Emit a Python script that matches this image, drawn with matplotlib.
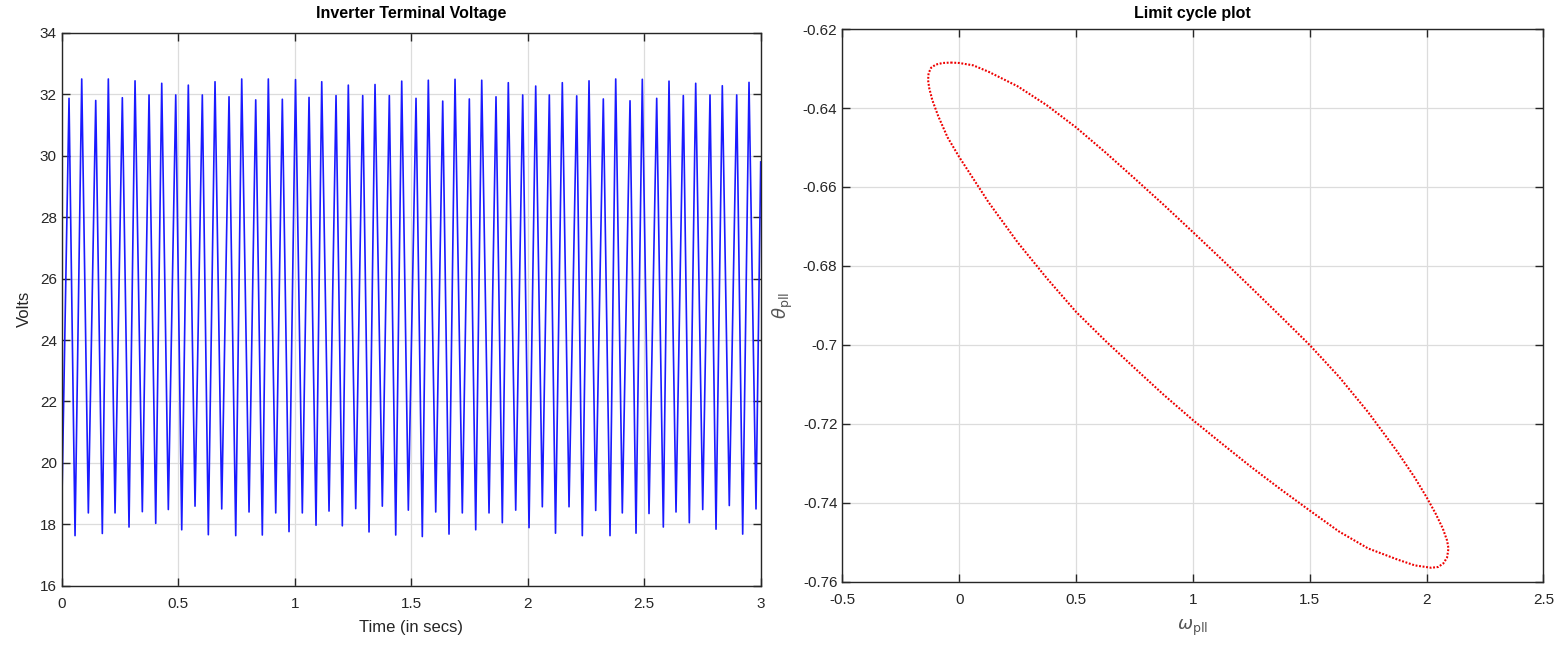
import matplotlib
matplotlib.use("Agg")
import matplotlib.pyplot as plt

plt.rcParams['font.family'] = ['Liberation Sans', 'DejaVu Sans']
plt.rcParams['mathtext.fontset'] = 'dejavusans'

# ---- Inverter terminal voltage: peaks and troughs ----
peak_t = [0.0313, 0.0858, 0.1459, 0.2000, 0.2601, 0.3146, 0.3747, 0.4292, 0.4893, 0.5433,
          0.6034, 0.6579, 0.7180, 0.7725, 0.8326, 0.8867, 0.9468, 1.0034, 1.0614, 1.1159,
          1.1773, 1.2300, 1.2918, 1.3446, 1.4060, 1.4592, 1.5206, 1.5734, 1.6352, 1.6880,
          1.7494, 1.8026, 1.8639, 1.9167, 1.9785, 2.0343, 2.0927, 2.1485, 2.2103, 2.2631,
          2.3245, 2.3777, 2.4391, 2.4918, 2.5536, 2.6064, 2.6678, 2.7210, 2.7824, 2.8352,
          2.8970, 2.9498]
peak_v = [31.87, 32.50, 31.80, 32.50, 31.89, 32.44, 31.98, 32.36, 31.98, 32.30,
          31.98, 32.41, 31.92, 32.50, 31.82, 32.50, 31.84, 32.48, 31.90, 32.41,
          31.96, 32.30, 31.96, 32.32, 31.96, 32.43, 31.87, 32.46, 31.78, 32.49,
          31.85, 32.46, 31.92, 32.38, 31.98, 32.27, 31.98, 32.38, 31.95, 32.44,
          31.85, 32.50, 31.79, 32.49, 31.87, 32.43, 31.96, 32.36, 31.98, 32.28,
          31.98, 32.39]
trough_t = [0.0000, 0.0571, 0.1142, 0.1742, 0.2288, 0.2888, 0.3459, 0.4034, 0.4575, 0.5150,
            0.5721, 0.6292, 0.6867, 0.7468, 0.8039, 0.8609, 0.9185, 0.9755, 1.0326, 1.0914,
            1.1472, 1.2043, 1.2618, 1.3189, 1.3760, 1.4335, 1.4876, 1.5476, 1.6052, 1.6622,
            1.7193, 1.7768, 1.8339, 1.8910, 1.9485, 2.0056, 2.0627, 2.1193, 2.1773, 2.2343,
            2.2918, 2.3532, 2.4060, 2.4648, 2.5206, 2.5820, 2.6365, 2.6936, 2.7511, 2.8082,
            2.8652, 2.9227, 2.9798]
trough_v = [18.43, 17.63, 18.37, 17.70, 18.37, 17.91, 18.41, 18.03, 18.48, 17.82,
            18.59, 17.66, 18.50, 17.63, 18.40, 17.65, 18.37, 17.76, 18.37, 17.97,
            18.43, 17.95, 18.51, 17.75, 18.59, 17.65, 18.46, 17.60, 18.40, 17.68,
            18.37, 17.82, 18.37, 18.05, 18.46, 17.89, 18.57, 17.71, 18.57, 17.63,
            18.45, 17.63, 18.37, 17.71, 18.35, 17.91, 18.40, 18.05, 18.48, 17.84,
            18.61, 17.68, 18.50]
end_t = 3.0
end_v = 29.8

# ---- Limit cycle: points read around the loop (upper branch, then lower branch) ----
omega_pll = [-0.036, 0.000, 0.060, 0.125, 0.250, 0.375, 0.500, 0.625, 0.750, 0.875,
             1.000, 1.125, 1.250, 1.375, 1.500, 1.625, 1.750, 1.875, 1.950, 2.000,
             2.040, 2.070, 2.088, 2.094, 2.088, 2.072, 2.050, 2.020, 1.950, 1.875,
             1.750, 1.625, 1.500, 1.375, 1.250, 1.125, 1.000, 0.875, 0.750, 0.625,
             0.500, 0.375, 0.250, 0.125, 0.000, -0.050, -0.090, -0.115, -0.128, -0.133,
             -0.131, -0.120, -0.100, -0.070, -0.036]
theta_pll = [-0.6285, -0.6286, -0.6292, -0.6308, -0.6345, -0.6393, -0.6449, -0.6512, -0.6578, -0.6645,
             -0.6714, -0.6784, -0.6855, -0.6927, -0.7000, -0.7080, -0.7170, -0.7270, -0.7336, -0.7385,
             -0.7428, -0.7465, -0.7495, -0.7515, -0.7538, -0.7553, -0.7562, -0.7564, -0.7558, -0.7543,
             -0.7515, -0.7472, -0.7419, -0.7365, -0.7309, -0.7250, -0.7190, -0.7126, -0.7058, -0.6989,
             -0.6916, -0.6831, -0.6740, -0.6638, -0.6524, -0.6474, -0.6420, -0.6380, -0.6350, -0.6330,
             -0.6312, -0.6298, -0.6290, -0.6286, -0.6285]

left_xticks = [0, 0.5, 1, 1.5, 2, 2.5, 3]
left_xticklabels = ['0', '0.5', '1', '1.5', '2', '2.5', '3']
left_yticks = [16, 18, 20, 22, 24, 26, 28, 30, 32, 34]
right_xticks = [-0.5, 0, 0.5, 1, 1.5, 2, 2.5]
right_xticklabels = ['-0.5', '0', '0.5', '1', '1.5', '2', '2.5']
right_yticks = [-0.76, -0.74, -0.72, -0.70, -0.68, -0.66, -0.64, -0.62]
right_yticklabels = ['-0.76', '-0.74', '-0.72', '-0.7', '-0.68', '-0.66', '-0.64', '-0.62']

# build alternating time series from peaks/troughs
vt, vv = [], []
for i in range(len(trough_t)):
    vt.append(trough_t[i]); vv.append(trough_v[i])
    if i < len(peak_t):
        vt.append(peak_t[i]); vv.append(peak_v[i])
vt.append(end_t); vv.append(end_v)

fig = plt.figure(figsize=(15.55, 6.46), dpi=100)
ax1 = fig.add_axes([0.0397, 0.0934, 0.4495, 0.8556])
ax2 = fig.add_axes([0.5417, 0.0991, 0.4508, 0.8560])

spine_col = '#262626'
for ax in (ax1, ax2):
    ax.grid(True, color='#dcdcdc', linewidth=0.9)
    ax.set_axisbelow(True)
    ax.tick_params(direction='in', top=True, right=True, labelsize=11,
                   colors=spine_col, length=6, width=1.0)
    ax.tick_params(axis='x', pad=8)
    for s in ax.spines.values():
        s.set_color(spine_col)
        s.set_linewidth(1.0)

ax1.plot(vt, vv, color='#1a1aff', linewidth=1.2)
ax1.set_xlim(0, 3)
ax1.set_ylim(16, 34)
ax1.set_xticks(left_xticks)
ax1.set_xticklabels(left_xticklabels)
ax1.set_yticks(left_yticks)
ax1.set_title('Inverter Terminal Voltage', fontsize=11.5, fontweight='bold', pad=11)
ax1.set_xlabel('Time (in secs)', fontsize=12, color=spine_col, labelpad=7)
ax1.set_ylabel('Volts', fontsize=12, color=spine_col, labelpad=6)

ax2.plot(omega_pll, theta_pll, color='#ee0000', linewidth=1.5,
         linestyle=(0, (0.9, 0.8)))
ax2.set_xlim(-0.5, 2.5)
ax2.set_ylim(-0.76, -0.62)
ax2.set_xticks(right_xticks)
ax2.set_xticklabels(right_xticklabels)
ax2.set_yticks(right_yticks)
ax2.set_yticklabels(right_yticklabels)
ax2.set_title('Limit cycle plot', fontsize=11.5, fontweight='bold', pad=8)
ax2.set_xlabel(r'$\omega_{\rm pll}$', fontsize=13, color='#555555', labelpad=8)
ax2.set_ylabel(r'$\theta_{\rm pll}$', fontsize=13, color='#555555', labelpad=6)

fig.savefig('out.png', dpi=100)
